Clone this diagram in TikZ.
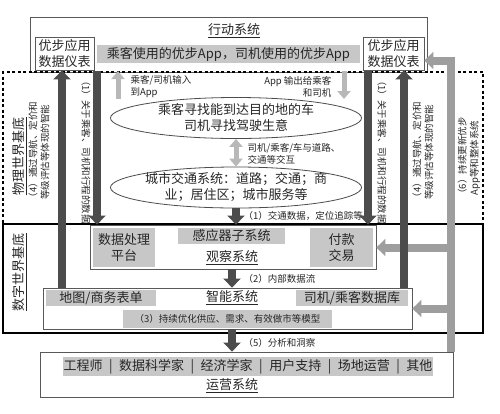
\documentclass[tikz,border=0pt]{standalone}
\usepackage{fontspec}
\setmainfont{Noto Sans CJK SC}
\usetikzlibrary{arrows.meta,shapes.geometric}

\begin{document}
\begin{tikzpicture}[x=1pt,y=-1pt,
    every node/.style={text=black!85},
    big/.style={font=\fontsize{13}{16}\selectfont},
    small/.style={font=\fontsize{9.5}{12}\selectfont},
    grey/.style={fill=black!22,inner sep=0pt},
    frame/.style={draw=black!65,line width=0.8pt,inner sep=0pt},
    darkbar/.style={draw=black!70,line width=8pt,-{Triangle[width=17pt,length=9pt]}},
    lightbar/.style={draw=black!38,line width=8pt,-{Triangle[width=17pt,length=9pt]}},
    thinbar/.style={draw=black!28,line width=5pt,-{Triangle[width=13pt,length=8pt]}}]
    \useasboundingbox (0,0) rectangle (500,413);
    % action system
    \node[frame,minimum width=397pt,minimum height=55pt] (1) at (228.5,44.5) {};
    \node[big] (2) at (234,31) {\underline{行动系统}};
    \node[frame,big,fill=white,minimum width=59pt,minimum height=33pt,align=center] (3) at (64.5,53.5) {优步应用\\数据仪表};
    \node[frame,big,fill=white,minimum width=61pt,minimum height=33pt,align=center] (4) at (393.5,53.5) {优步应用\\数据仪表};
    \node[grey,big,minimum width=263pt,minimum height=18pt] (5) at (228.5,54) {乘客使用的优步App，司机使用的优步App};
    % physical world
    \node[draw=black,line width=1.8pt,dash pattern=on 3pt off 2.5pt,minimum width=480pt,minimum height=152pt,inner sep=0pt] (6) at (243,148) {};
    \node[big,rotate=90] (7) at (20,156) {\underline{物理世界基底}};
    \node[ellipse,draw=black!70,line width=0.8pt,minimum width=251pt,minimum height=41pt,inner sep=0pt] (8) at (236,118) {};
    \node[big,align=center] (9) at (8) {乘客寻找能到达目的地的车\\司机寻找驾驶生意};
    \node[ellipse,draw=black!70,line width=0.8pt,minimum width=251pt,minimum height=41pt,inner sep=0pt] (10) at (236,187.5) {};
    \node[big,align=center] (11) at (10) {城市交通系统：道路；交通；商\\业；居住区；城市服务等};
    % digital world
    \node[draw=black,line width=1.4pt,minimum width=480pt,minimum height=109pt,inner sep=0pt] (12) at (243,278.5) {};
    \node[big,rotate=90] (13) at (20,272) {\underline{数字世界基底}};
    \node[frame,minimum width=286pt,minimum height=44pt] (14) at (233,247) {};
    \node[grey,big,minimum width=62pt,minimum height=39pt,align=center] (15) at (124,247.5) {数据处理\\平台};
    \node[grey,big,minimum width=107pt,minimum height=16pt] (16) at (231.5,236) {感应器子系统};
    \node[big] (17) at (232,258) {\underline{观察系统}};
    \node[grey,big,minimum width=63pt,minimum height=39pt,align=center] (18) at (341.5,247.5) {付款\\交易};
    \node[frame,minimum width=369pt,minimum height=41pt] (19) at (227.5,308.5) {};
    \node[grey,big,minimum width=110pt,minimum height=16pt] (20) at (101,298) {地图/商务表单};
    \node[big] (21) at (232,298) {\underline{智能系统}};
    \node[grey,big,minimum width=112pt,minimum height=16pt] (22) at (352,298) {司机/乘客数据库};
    \node[grey,small,minimum width=209pt,minimum height=18pt] (23) at (227.5,319) {（3）持续优化供应、需求、有效做市等模型};
    % operations
    \node[frame,minimum width=413pt,minimum height=45pt] (24) at (246.5,374.5) {};
    \node[grey,big,minimum width=370pt,minimum height=19pt] (25) at (248,366.5) {工程师\enskip|\enskip{}数据科学家\enskip|\enskip{}经济学家\enskip|\enskip{}用户支持\enskip|\enskip{}场地运营\enskip|\enskip{}其他};
    \node[big] (26) at (232,386) {\underline{运营系统}};
    % labels
    \node[small,anchor=west,align=left] (27) at (127,87) {乘客/司机输入\\到App};
    \node[small,anchor=east,align=right] (28) at (335,87) {App 输出给乘客\\和司机};
    \node[small,anchor=west,align=left] (29) at (244,154) {司机/乘客/车与道路、\\交通等交互};
    \node[small,anchor=west] (30) at (240,216) {（1）交通数据，定位追踪等};
    \node[small,anchor=west] (31) at (240,279) {（2）内部数据流};
    \node[small,anchor=west] (32) at (240,343) {（5）分析和洞察};
    \node[small,rotate=-90] (33) at (86,150) {（1）关于乘客、司机和行程的数据};
    \node[small,rotate=90,align=center] (34) at (39,152) {（4）通过导航、定价和\\等级评估等体现的智能};
    \node[small,rotate=-90] (35) at (382,150) {（1）关于乘客、司机和行程的数据};
    \node[small,rotate=90,align=center] (36) at (423,152) {（4）通过导航、定价和\\等级评估等体现的智能};
    \node[small,rotate=90,align=center] (37) at (469,158) {（6）持续更新优步\\App等和整体系统};
    % bar columns
    \coordinate (a) at (62,0);
    \coordinate (b) at (97,0);
    \coordinate (c) at (368,0);
    \coordinate (d) at (404,0);
    \coordinate (e) at (451,0);
    \coordinate (f) at (118,99);
    \coordinate (g) at (344,99);
    % arrows
    \draw[lightbar] (24.north -| e) |- ([yshift=-7pt]4.east);
    \draw[lightbar] (e |- 18.east) -- (14.east |- 18.east);
    \draw[lightbar] (e |- 19.east) -- (19.east);
    \draw[darkbar] (19.north -| a) -- (3.south -| a);
    \draw[darkbar] (6.north -| b) -- (14.north -| b);
    \draw[darkbar] (6.north -| c) -- (14.north -| c);
    \draw[darkbar] (19.north -| d) -- (4.south -| d);
    \draw[darkbar] (10.south) -- (14.north -| 10.south);
    \draw[darkbar] (14.south -| 17) -- (19.north -| 17);
    \draw[darkbar] (19.south -| 21) -- (24.north -| 21);
    \draw[thinbar] (f) -- (f |- 6.north);
    \draw[thinbar] (g |- 6.north) -- (g);
    \draw[thinbar,{Triangle[width=13pt,length=8pt]}-{Triangle[width=13pt,length=8pt]}] (8.south) -- (10.north);
\end{tikzpicture}
\end{document}
